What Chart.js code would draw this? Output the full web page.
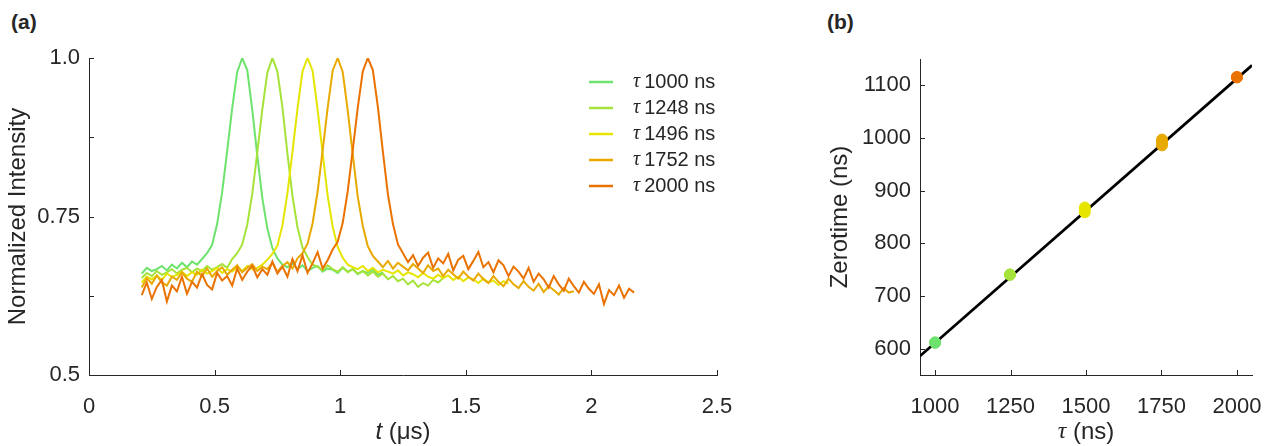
<!DOCTYPE html>
<html>
<head>
<meta charset="utf-8">
<script src="https://cdn.jsdelivr.net/npm/chart.js@4.4.0/dist/chart.umd.min.js"></script>
<style>
  body { margin: 0; background: #fff; width: 1265px; height: 446px; overflow: hidden; position: relative; }
  .panel { position: absolute; top: 0; }
  .tag { position: absolute; top: 10px; font: bold 21px "Liberation Sans", Arial, sans-serif; color: #262626; }
</style>
</head>
<body>
<div class="tag" style="left:11px">(a)</div>
<div class="tag" style="left:827px">(b)</div>
<canvas id="traces" class="panel" style="left:0" width="760" height="446"></canvas>
<canvas id="fit" class="panel" style="left:780px" width="512" height="446"></canvas>
<script>
// time axis shared by all traces (µs)
const timeUs = [
  0.21, 0.23, 0.25, 0.27, 0.29, 0.31, 0.33, 0.35, 0.37, 0.39,
  0.41, 0.43, 0.45, 0.47, 0.49, 0.51, 0.53, 0.55, 0.57, 0.59,
  0.61, 0.63, 0.65, 0.67, 0.69, 0.71, 0.73, 0.75, 0.77, 0.79,
  0.81, 0.83, 0.85, 0.87, 0.89, 0.91, 0.93, 0.95, 0.97, 0.99,
  1.01, 1.03, 1.05, 1.07, 1.09, 1.11, 1.13, 1.15, 1.17, 1.19,
  1.21, 1.23, 1.25, 1.27, 1.29, 1.31, 1.33, 1.35, 1.37, 1.39,
  1.41, 1.43, 1.45, 1.47, 1.49, 1.51, 1.53, 1.55, 1.57, 1.59,
  1.61, 1.63, 1.65, 1.67, 1.69, 1.71, 1.73, 1.75, 1.77, 1.79,
  1.81, 1.83, 1.85, 1.87, 1.89, 1.91, 1.93, 1.95, 1.97, 1.99,
  2.01, 2.03, 2.05, 2.07, 2.09, 2.11, 2.13, 2.15, 2.17
];

const tauNs = [1000, 1248, 1496, 1752, 2000];
const traceColors = ['#6de26d', '#a6e33a', '#e5e500', '#e8a900', '#ea7200'];

const trace1000 = [
  0.660, 0.669, 0.664, 0.667, 0.672, 0.665, 0.674, 0.668, 0.677, 0.670,
  0.679, 0.674, 0.683, 0.692, 0.705, 0.738, 0.788, 0.853, 0.921, 0.978,
  1.000, 0.981, 0.918, 0.846, 0.779, 0.731, 0.700, 0.684, 0.674, 0.670,
  0.676, 0.667, 0.673, 0.664, 0.669, 0.672, 0.663, 0.668, 0.666, 0.661,
  0.669, 0.663, 0.667, 0.659, 0.664, 0.661, 0.666, 0.658, 0.662
];
const trace1248 = [
  0.653, 0.661, 0.656, 0.664, 0.658, 0.662, 0.667, 0.660, 0.666, 0.669,
  0.662, 0.668, 0.664, 0.672, 0.666, 0.670, 0.675, 0.669, 0.683, 0.692,
  0.706, 0.737, 0.786, 0.851, 0.919, 0.977, 1.000, 0.979, 0.922, 0.849,
  0.782, 0.733, 0.701, 0.686, 0.674, 0.671, 0.665, 0.673, 0.667, 0.663,
  0.670, 0.662, 0.667, 0.660, 0.664, 0.657, 0.663, 0.655, 0.660, 0.651,
  0.656, 0.648, 0.652, 0.643, 0.649, 0.639, 0.645, 0.641, 0.650, 0.646, 0.653
];
const trace1496 = [
  0.646, 0.655, 0.651, 0.657, 0.650, 0.660, 0.655, 0.658, 0.663, 0.656,
  0.662, 0.658, 0.666, 0.660, 0.664, 0.669, 0.661, 0.667, 0.663, 0.670,
  0.664, 0.672, 0.667, 0.669, 0.674, 0.682, 0.691, 0.704, 0.736, 0.787,
  0.852, 0.920, 0.979, 1.000, 0.980, 0.919, 0.850, 0.783, 0.734, 0.702,
  0.685, 0.674, 0.670, 0.667, 0.672, 0.664, 0.669, 0.662, 0.666, 0.663,
  0.660, 0.665, 0.657, 0.662, 0.659, 0.654, 0.661, 0.655, 0.652, 0.658,
  0.653, 0.657, 0.650, 0.655, 0.648, 0.654, 0.651, 0.645, 0.652, 0.646,
  0.649, 0.642, 0.648, 0.644
];
const trace1752 = [
  0.638, 0.653, 0.644, 0.657, 0.646, 0.641, 0.655, 0.650, 0.662, 0.652,
  0.647, 0.663, 0.656, 0.668, 0.655, 0.664, 0.670, 0.658, 0.666, 0.673,
  0.662, 0.669, 0.675, 0.664, 0.671, 0.667, 0.677, 0.663, 0.672, 0.678,
  0.668, 0.684, 0.692, 0.707, 0.739, 0.789, 0.854, 0.921, 0.980, 1.000,
  0.978, 0.917, 0.848, 0.781, 0.735, 0.703, 0.688, 0.679, 0.670, 0.680,
  0.668, 0.677, 0.671, 0.665, 0.675, 0.668, 0.661, 0.673, 0.664, 0.668,
  0.656, 0.666, 0.659, 0.652, 0.663, 0.655, 0.649, 0.660, 0.651, 0.645,
  0.656, 0.647, 0.640, 0.652, 0.643, 0.637, 0.648, 0.639, 0.633, 0.644,
  0.631, 0.640, 0.634, 0.627, 0.637, 0.630, 0.632
];
const trace2000 = [
  0.626, 0.646, 0.620, 0.639, 0.650, 0.616, 0.641, 0.632, 0.655, 0.628,
  0.647, 0.638, 0.659, 0.642, 0.635, 0.661, 0.649, 0.656, 0.641, 0.668,
  0.650, 0.663, 0.672, 0.654, 0.667, 0.658, 0.679, 0.660, 0.671, 0.655,
  0.683, 0.664, 0.689, 0.661, 0.676, 0.694, 0.668, 0.681, 0.698, 0.710,
  0.740, 0.790, 0.855, 0.922, 0.979, 1.000, 0.981, 0.923, 0.852, 0.785,
  0.738, 0.706, 0.692, 0.678, 0.689, 0.672, 0.685, 0.693, 0.669, 0.684,
  0.676, 0.691, 0.665, 0.682, 0.688, 0.667, 0.680, 0.694, 0.670, 0.678,
  0.662, 0.681, 0.673, 0.656, 0.671, 0.663, 0.652, 0.669, 0.647, 0.660,
  0.651, 0.638, 0.656, 0.643, 0.633, 0.652, 0.640, 0.630, 0.647, 0.636,
  0.628, 0.643, 0.612, 0.634, 0.626, 0.641, 0.622, 0.636, 0.630
];
const traces = [trace1000, trace1248, trace1496, trace1752, trace2000];

// panel (b): fitted zero time for each repeat, and the linear fit
const zeroTimeNs = [[612, 611], [740, 741], [859, 868, 864], [986, 997, 991], [1115, 1116]];
const fitTau = [950, 2050];
const fitZero = [586, 1138];
const tauTicks = [1000, 1250, 1500, 1750, 2000];
const zeroTicks = [600, 700, 800, 900, 1000, 1100];

const textColor = '#262626';
const axisColor = '#262626';
const sans = '"Liberation Sans", Arial, sans-serif';
const tickFont = { family: sans, size: 22 };
const titleFont = { family: sans, size: 24 };

// MATLAB style ticks pointing into the plot
const innerTicks = {
  id: 'innerTicks',
  afterDraw(chart) {
    const { ctx, chartArea: a, scales } = chart;
    ctx.save();
    ctx.strokeStyle = axisColor;
    ctx.lineWidth = 1;
    ctx.beginPath();
    scales.x.ticks.forEach(t => {
      const px = Math.round(scales.x.getPixelForValue(t.value)) + 0.5;
      ctx.moveTo(px, a.bottom);
      ctx.lineTo(px, a.bottom - 5);
    });
    scales.y.ticks.forEach(t => {
      const py = Math.round(scales.y.getPixelForValue(t.value)) + 0.5;
      ctx.moveTo(a.left, py);
      ctx.lineTo(a.left + 5, py);
    });
    ctx.stroke();
    ctx.restore();
  }
};

// x axis title with an italic first symbol
function axisTitle(parts, offset) {
  return {
    id: 'axisTitle',
    afterDraw(chart) {
      const { ctx, chartArea: a } = chart;
      ctx.save();
      ctx.fillStyle = textColor;
      ctx.textBaseline = 'middle';
      const widths = parts.map(p => { ctx.font = p.style; return ctx.measureText(p.text).width; });
      let x = (a.left + a.right) / 2 - widths.reduce((s, w) => s + w, 0) / 2;
      parts.forEach((p, i) => {
        ctx.font = p.style;
        ctx.fillText(p.text, x, a.bottom + offset);
        x += widths[i];
      });
      ctx.restore();
    }
  };
}

const tauLegend = {
  id: 'tauLegend',
  afterDraw(chart) {
    const { ctx, chartArea: a } = chart;
    ctx.save();
    ctx.textBaseline = 'middle';
    chart.data.datasets.forEach((ds, i) => {
      const y = a.top + 24 + i * 26;
      const x0 = a.left + 500;
      ctx.strokeStyle = ds.borderColor;
      ctx.lineWidth = 2.5;
      ctx.beginPath();
      ctx.moveTo(x0, y);
      ctx.lineTo(x0 + 24, y);
      ctx.stroke();
      ctx.fillStyle = textColor;
      ctx.font = 'italic 20px "Liberation Serif", serif';
      ctx.fillText('τ', x0 + 44, y);
      const w = ctx.measureText('τ').width;
      ctx.font = '20px ' + sans;
      ctx.fillText(ds.label.slice(2), x0 + 44 + w + 4, y);
    });
    ctx.restore();
  }
};

new Chart(document.getElementById('traces'), {
  type: 'line',
  data: {
    datasets: traces.map((vals, i) => ({
      label: 'τ ' + tauNs[i] + ' ns',
      data: vals.map((v, k) => ({ x: timeUs[k], y: v })),
      borderColor: traceColors[i],
      borderWidth: 2,
      pointRadius: 0,
      tension: 0,
      order: traces.length - i
    }))
  },
  options: {
    responsive: false,
    animation: false,
    layout: { padding: { left: 0, right: 43, top: 58, bottom: 0 } },
    plugins: { legend: { display: false }, tooltip: { enabled: false } },
    scales: {
      x: {
        type: 'linear', min: 0, max: 2.5,
        afterFit: s => { s.height = 71; },
        grid: { display: false, drawTicks: false },
        border: { color: axisColor },
        ticks: { stepSize: 0.5, padding: 19, color: textColor, font: tickFont, maxRotation: 0, autoSkip: false, callback: v => String(v) }
      },
      y: {
        min: 0.5, max: 1,
        afterFit: s => { s.width = 89; },
        grid: { display: false, drawTicks: false },
        border: { color: axisColor },
        ticks: {
          stepSize: 0.125, padding: 9, color: textColor, font: tickFont, autoSkip: false,
          callback: v => (v === 1 ? '1.0' : (v === 0.75 || v === 0.5 ? String(v) : ''))
        },
        title: { display: true, text: 'Normalized Intensity', color: textColor, font: titleFont, padding: { top: 4 } }
      }
    }
  },
  plugins: [innerTicks, tauLegend, axisTitle([
    { text: 't', style: 'italic 24px ' + sans },
    { text: ' (μs)', style: '24px ' + sans }
  ], 57)]
});

new Chart(document.getElementById('fit'), {
  type: 'scatter',
  data: {
    datasets: [
      ...zeroTimeNs.map((runs, i) => ({
        label: 'τ ' + tauNs[i] + ' ns',
        data: runs.map(z => ({ x: tauNs[i], y: z })),
        backgroundColor: traceColors[i],
        borderColor: traceColors[i],
        borderWidth: 1,
        pointRadius: 5.5,
        order: 1
      })),
      {
        label: 'fit',
        data: fitTau.map((t, k) => ({ x: t, y: fitZero[k] })),
        showLine: true,
        borderColor: '#000',
        borderWidth: 2.8,
        pointRadius: 0,
        order: 2
      }
    ]
  },
  options: {
    responsive: false,
    animation: false,
    layout: { padding: { left: 0, right: 40, top: 59, bottom: 0 } },
    plugins: { legend: { display: false }, tooltip: { enabled: false } },
    scales: {
      x: {
        min: 950, max: 2050,
        afterBuildTicks: s => { s.ticks = tauTicks.map(v => ({ value: v })); },
        afterFit: s => { s.height = 71; },
        grid: { display: false, drawTicks: false },
        border: { color: axisColor },
        ticks: { padding: 19, color: textColor, font: tickFont, maxRotation: 0, autoSkip: false, callback: v => String(v) }
      },
      y: {
        min: 550, max: 1150,
        afterBuildTicks: s => { s.ticks = zeroTicks.map(v => ({ value: v })); },
        afterFit: s => { s.width = 140; },
        grid: { display: false, drawTicks: false },
        border: { color: axisColor },
        ticks: { padding: 9, color: textColor, font: tickFont, autoSkip: false, callback: v => String(v) },
        title: { display: true, text: 'Zerotime (ns)', color: textColor, font: titleFont, padding: { top: 46 } }
      }
    }
  },
  plugins: [innerTicks, axisTitle([
    { text: 'τ', style: 'italic 24px "Liberation Serif", serif' },
    { text: ' (ns)', style: '24px ' + sans }
  ], 57)]
});
</script>
</body>
</html>
